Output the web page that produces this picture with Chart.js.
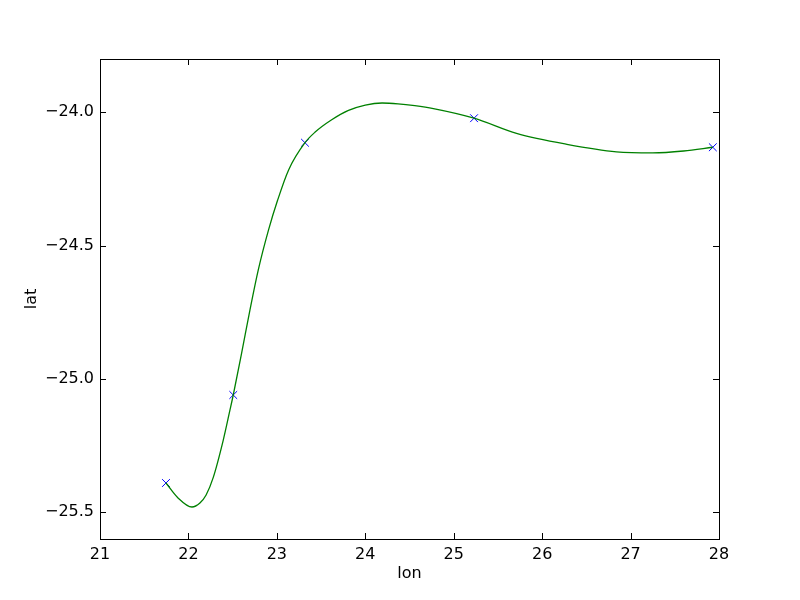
<!DOCTYPE html>
<html>
<head>
<meta charset="utf-8">
<script src="https://cdn.jsdelivr.net/npm/chart.js@4/dist/chart.umd.min.js"></script>
<style>
  html, body { margin: 0; padding: 0; background: #fff; }
  #wrap { width: 800px; height: 600px; }
</style>
</head>
<body>
<div id="wrap"><canvas id="c" width="800" height="600"></canvas></div>
<script>
// measured points (blue crosses)
const markerLon = [21.746, 22.507, 23.318, 25.23, 27.93];
const markerLat = [-25.39, -25.06, -24.114, -24.022, -24.131];

// green curve
const curveLon = [21.746, 21.88, 22.04, 22.13, 22.2, 22.28, 22.394, 22.47, 22.507, 22.601, 22.696, 22.79, 22.906, 23.009, 23.133, 23.318, 23.43, 23.62, 23.81, 24.0, 24.19, 24.37, 24.56, 24.77, 25.23, 25.71, 26.28, 26.84, 27.25, 27.6, 27.93];
const curveLat = [-25.39, -25.445, -25.48, -25.465, -25.435, -25.37, -25.229, -25.116, -25.06, -24.904, -24.741, -24.591, -24.441, -24.329, -24.216, -24.114, -24.075, -24.028, -23.993, -23.973, -23.965, -23.968, -23.975, -23.986, -24.022, -24.079, -24.12, -24.148, -24.152, -24.145, -24.131];

const xTicks = [21, 22, 23, 24, 25, 26, 27, 28];
const yTicks = [-25.5, -25.0, -24.5, -24.0];

const FONT = 'DejaVu Sans';

function pts(xs, ys){ return xs.map((x, i) => ({ x, y: ys[i] })); }
function fmtMinus(s){ return String(s).replace('-', '\u2212'); }

// frame + inward ticks on all four sides, like the matplotlib classic style
const framePlugin = {
  id: 'frame',
  afterDraw(chart){
    const { ctx, chartArea: a, scales } = chart;
    const len = 6;
    ctx.save();
    ctx.strokeStyle = '#000';
    ctx.lineWidth = 1;
    ctx.beginPath();
    xTicks.forEach(v => {
      const px = Math.round(scales.x.getPixelForValue(v)) + 0.5;
      ctx.moveTo(px, a.bottom); ctx.lineTo(px, a.bottom - len);
      ctx.moveTo(px, a.top); ctx.lineTo(px, a.top + len);
    });
    yTicks.forEach(v => {
      const py = Math.round(scales.y.getPixelForValue(v)) + 0.5;
      ctx.moveTo(a.left, py); ctx.lineTo(a.left + len, py);
      ctx.moveTo(a.right, py); ctx.lineTo(a.right - len, py);
    });
    ctx.stroke();
    ctx.strokeRect(Math.round(a.left) + 0.5, Math.round(a.top) + 0.5, Math.round(a.right - a.left), Math.round(a.bottom - a.top));
    ctx.restore();
  }
};

new Chart(document.getElementById('c'), {
  type: 'scatter',
  data: {
    datasets: [
      {
        label: 'curve',
        data: pts(curveLon, curveLat),
        showLine: true,
        borderColor: '#008000',
        borderWidth: 1.3,
        pointRadius: 0,
        pointHoverRadius: 0,
        cubicInterpolationMode: 'monotone',
        fill: false
      },
      {
        label: 'points',
        data: pts(markerLon, markerLat),
        showLine: false,
        pointStyle: 'crossRot',
        pointRadius: 5.5,
        borderColor: '#0000ff',
        backgroundColor: '#0000ff',
        borderWidth: 1
      }
    ]
  },
  options: {
    responsive: false,
    animation: false,
    layout: { padding: { left: 0, top: 59, right: 81, bottom: 0 } },
    plugins: { legend: { display: false }, tooltip: { enabled: false } },
    scales: {
      x: {
        type: 'linear',
        min: 21, max: 28,
        afterFit(s){ s.height = 61; },
        afterBuildTicks(s){ s.ticks = xTicks.map(v => ({ value: v })); },
        grid: { display: false, drawTicks: false },
        border: { display: false },
        ticks: { color: '#000', padding: 6, font: { family: FONT, size: 16 }, callback: v => fmtMinus(v) },
        title: { display: true, text: 'lon', color: '#000', font: { family: FONT, size: 16 }, padding: { top: 0, bottom: 17 } }
      },
      y: {
        type: 'linear',
        min: -25.6, max: -23.8,
        afterFit(s){ s.width = 100; },
        afterBuildTicks(s){ s.ticks = yTicks.map(v => ({ value: v })); },
        grid: { display: false, drawTicks: false },
        border: { display: false },
        ticks: { color: '#000', padding: 6, font: { family: FONT, size: 16 }, callback: v => fmtMinus(Number(v).toFixed(1)) },
        title: { display: true, text: 'lat', color: '#000', font: { family: FONT, size: 16 }, padding: { top: 22, bottom: 0 } }
      }
    }
  },
  plugins: [framePlugin]
});
</script>
</body>
</html>
